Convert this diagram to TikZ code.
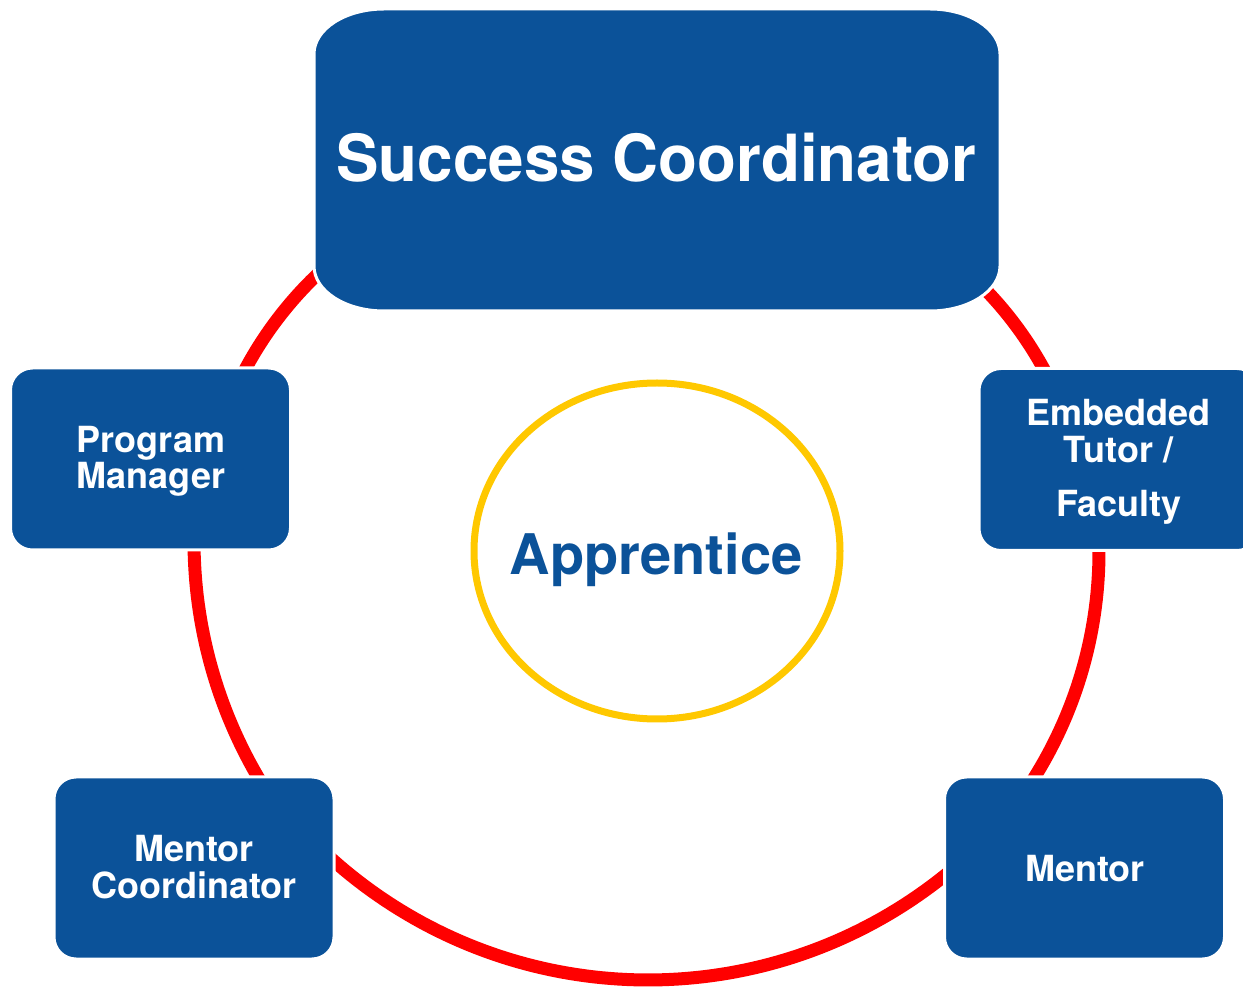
\documentclass[tikz,border=0pt]{standalone}
\usepackage{fontspec}
\setmainfont{TeX Gyre Heros}
\newfontfamily\scfont[FakeStretch=0.98]{TeX Gyre Heros}
\usetikzlibrary{shapes.geometric}
\definecolor{boxblue}{RGB}{11,82,153}
\definecolor{ringred}{RGB}{255,0,0}
\definecolor{ringyellow}{RGB}{255,200,0}
\tikzset{
  ringarc/.style={draw=ringred, line width=6.5pt},
  bluebox/.style={rectangle, rounded corners=11pt, fill=boxblue, draw=white, line width=1.5pt, minimum width=140pt, minimum height=91pt, inner sep=0pt},
  lbl/.style={text=white, font=\bfseries\fontsize{18pt}{18pt}\selectfont, inner sep=0pt, anchor=base},
  biglbl/.style={text=white, font=\scfont\bfseries\fontsize{32.5pt}{32.5pt}\selectfont, inner sep=0pt, anchor=base},
  applbl/.style={text=boxblue, font=\bfseries\fontsize{28pt}{28pt}\selectfont, inner sep=0pt, anchor=base},
  ringoval/.style={ellipse, draw=ringyellow, line width=3.5pt, minimum width=183pt, minimum height=168pt, inner sep=0pt},
}
\begin{document}
\begin{tikzpicture}[x=0.5pt, y=-0.5pt]
\useasboundingbox (0,0) rectangle (1243,988);
\clip (0,0) rectangle (1243,988);
% red cycle arcs
\draw[ringarc] plot[domain=45:137, samples=90] ({648+474*cos(\x)}, {506+474*sin(\x)});
\draw[ringarc] plot[domain=145:183, samples=40] ({662+468*cos(\x)}, {541+468*sin(\x)});
\draw[ringarc] plot[domain=-2:35, samples=40] ({673+426*cos(\x)}, {552+426*sin(\x)});
\draw[ringarc] plot[domain=205:235, samples=40] ({576+375*cos(\x)}, {546+375*sin(\x)});
\draw[ringarc] plot[domain=-50:-25, samples=40] ({720+369*cos(\x)}, {546+369*sin(\x)});
% centre
\node[ringoval] (app) at (657,551) {};
\node[applbl] (appt) at (656,575) {Apprentice};
% success coordinator box
\path[fill=boxblue, draw=white, line width=1.5pt]
  (384,9) -- (930,9) arc[start angle=90, end angle=0, x radius=35pt, y radius=22.5pt]
  -- (1000,266) arc[start angle=0, end angle=-90, x radius=35pt, y radius=22.5pt]
  -- (384,311) arc[start angle=-90, end angle=-180, x radius=35pt, y radius=22.5pt]
  -- (314,54) arc[start angle=180, end angle=90, x radius=35pt, y radius=22.5pt] -- cycle;
\node[biglbl] (sct) at (656.5,182) {Success Coordinator};
% other boxes
\node[bluebox] (pm) at (150.5,459) {};
\node[bluebox] (et) at (1119,459.5) {};
\node[bluebox] (mc) at (194,868) {};
\node[bluebox] (mn) at (1084.5,868) {};
\node[lbl] (pm1) at (151,453) {Program};
\node[lbl] (pm2) at (151,489) {Manager};
\node[lbl] (et1) at (1118.5,426) {Embedded};
\node[lbl] (et2) at (1118.5,463) {Tutor /};
\node[lbl] (et3) at (1119,517) {Faculty};
\node[lbl] (mc1) at (194,862) {Mentor};
\node[lbl] (mc2) at (194,898) {Coordinator};
\node[lbl] (mn1) at (1085,881) {Mentor};
\end{tikzpicture}
\end{document}
